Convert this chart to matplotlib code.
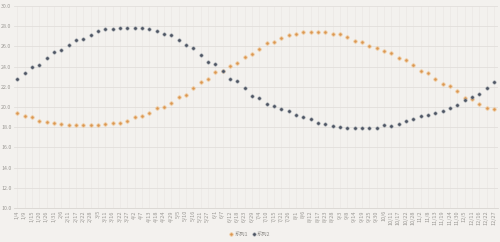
import matplotlib
matplotlib.use("Agg")
import matplotlib.pyplot as plt

plt.rcParams["font.family"] = ["Noto Sans CJK SC", "DejaVu Sans"]

DATES = [
    "1/4", "1/9", "1/15", "1/20", "1/26", "1/31",
    "2/6", "2/11", "2/17", "2/22", "2/28",
    "3/5", "3/11", "3/16", "3/22", "3/27",
    "4/2", "4/7", "4/13", "4/18", "4/24", "4/29",
    "5/5", "5/10", "5/16", "5/21", "5/27",
    "6/1", "6/7", "6/12", "6/18", "6/23", "6/29",
    "7/4", "7/10", "7/15", "7/21", "7/26",
    "8/1", "8/6", "8/12", "8/17", "8/23", "8/28",
    "9/3", "9/8", "9/14", "9/19", "9/25", "9/30",
    "10/6", "10/11", "10/17", "10/22", "10/28",
    "11/2", "11/8", "11/13", "11/19", "11/24", "11/30",
    "12/5", "12/11", "12/16", "12/22", "12/27",
]

SERIES_1 = [
    19.38, 19.08, 18.98, 18.64, 18.48, 18.45, 18.29, 18.25, 18.22, 18.22,
    18.22, 18.25, 18.29, 18.39, 18.45, 18.64, 18.98, 19.11, 19.38, 19.90,
    19.97, 20.43, 21.02, 21.22, 21.85, 22.48, 22.77, 23.47, 23.60, 24.03,
    24.39, 24.95, 25.28, 25.74, 26.34, 26.44, 26.86, 27.16, 27.26, 27.46,
    27.46, 27.46, 27.46, 27.26, 27.20, 26.96, 26.57, 26.44, 26.07, 25.84,
    25.54, 25.35, 24.88, 24.65, 24.13, 23.56, 23.33, 22.74, 22.25, 22.05,
    21.55, 20.92, 20.76, 20.33, 19.93, 19.77,
]

SERIES_2 = [
    22.74, 23.37, 23.96, 24.13, 24.85, 25.45, 25.61, 26.17, 26.67, 26.77,
    27.16, 27.56, 27.69, 27.75, 27.85, 27.85, 27.85, 27.85, 27.75, 27.56,
    27.26, 27.16, 26.67, 26.11, 25.87, 25.18, 24.46, 24.26, 23.62, 22.74,
    22.57, 21.85, 21.12, 20.92, 20.33, 20.10, 19.83, 19.64, 19.24, 19.05,
    18.78, 18.45, 18.32, 18.15, 18.05, 17.92, 17.92, 17.92, 17.92, 17.95,
    18.19, 18.15, 18.32, 18.67, 18.78, 19.08, 19.18, 19.38, 19.60, 19.93,
    20.17, 20.69, 21.02, 21.32, 21.85, 22.48,
]

LABELS = ["系列1", "系列2"]
Y_TICKS = [10.0, 12.0, 14.0, 16.0, 18.0, 20.0, 22.0, 24.0, 26.0, 28.0, 30.0]

BG = "#f3f1ee"
ORANGE = "#d99550"
GRAY = "#4d5462"


def main() -> None:
    fig = plt.figure(figsize=(5.0, 2.42), dpi=100, facecolor=BG)
    ax = fig.add_axes([0.027, 0.14, 0.968, 0.835], facecolor=BG)

    x = list(range(len(DATES)))
    ax.plot(x, SERIES_1, linestyle="none", marker="o", markersize=2.4,
            color=ORANGE, markeredgecolor="#f0c99c", markeredgewidth=0.6,
            label=LABELS[0], zorder=3)
    ax.plot(x, SERIES_2, linestyle="none", marker="o", markersize=2.4,
            color=GRAY, markeredgecolor="#9aa0a8", markeredgewidth=0.4,
            label=LABELS[1], zorder=3)

    ax.set_xlim(-0.5, len(DATES) - 0.5)
    ax.set_ylim(10, 30)
    ax.set_yticks(Y_TICKS)
    ax.set_yticklabels([f"{v:.1f}" for v in Y_TICKS], fontsize=3.8, color="#9a9894")
    ax.set_xticks(x)
    ax.set_xticklabels(DATES, rotation=90, fontsize=4.0, color="#9a9894")
    ax.tick_params(axis="both", length=0, pad=1.5)

    ax.grid(axis="y", which="major", color="#e2dfdb", linewidth=0.6)
    ax.grid(axis="x", which="major", color="#ebe8e4", linewidth=0.5)
    ax.set_axisbelow(True)
    for name, spine in ax.spines.items():
        spine.set_visible(name == "bottom")
    ax.spines["bottom"].set_color("#d8d5d1")
    ax.spines["bottom"].set_linewidth(0.6)

    fig.legend(loc="lower center", bbox_to_anchor=(0.5, 0.0), ncol=2,
               frameon=False, fontsize=3.8, labelcolor="#8a8884",
               handlelength=0.6, handletextpad=0.3, columnspacing=0.8)

    fig.savefig("out.png", dpi=100, facecolor=BG)
    plt.close(fig)


if __name__ == "__main__":
    main()
